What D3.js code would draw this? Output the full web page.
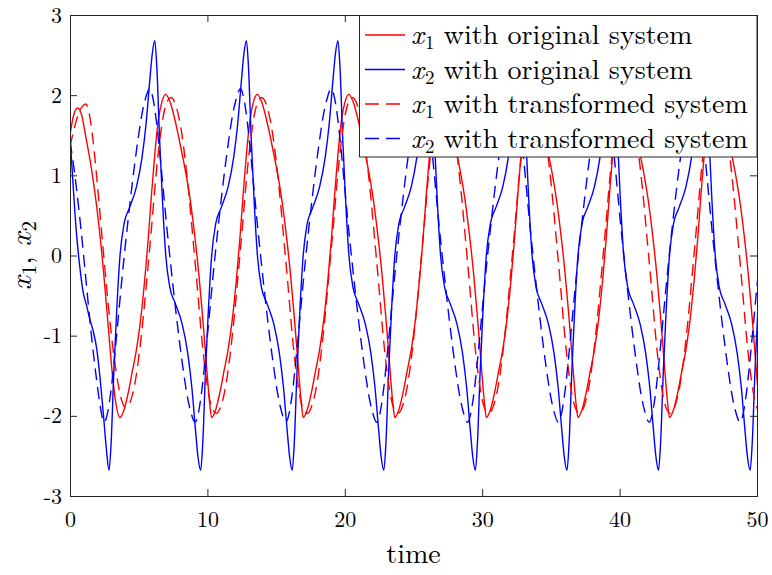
<!DOCTYPE html>
<html><head><meta charset="utf-8">
<script src="https://cdn.jsdelivr.net/npm/d3@7/dist/d3.min.js"></script>
<style>
body{margin:0;background:#fff}
text{font-family:"Latin Modern Roman","CMU Serif","Liberation Serif",serif;fill:#000}
</style></head>
<body><svg id="chart" width="772" height="575"></svg>
<script>
const xTicks=[0,10,20,30,40,50];
const yTicks=[-3,-2,-1,0,1,2,3];
const seriesNames=[
 {v:"1",rest:" with original system"},
 {v:"2",rest:" with original system"},
 {v:"1",rest:" with transformed system"},
 {v:"2",rest:" with transformed system"}];

const x1Orig=[[0,1.50],[0.25,1.74],[0.56,1.84],[0.85,1.75],[1.15,1.48],[1.5,1.15],[1.8,0.80],[2.1,0.38],[2.45,-0.22],[2.8,-0.92],[3.05,-1.42],[3.3,-1.80],
[3.64,-2.02],[3.94,-1.92],[4.24,-1.71],[4.54,-1.44],[4.84,-1.17],[5.14,-0.80],[5.44,-0.30],[5.69,0.20],[5.94,0.78],[6.19,1.30],[6.44,1.70],[6.69,1.92],[6.97,2.01],[7.27,1.92],[7.57,1.74],[7.87,1.51],[8.17,1.26],[8.47,0.99],[8.77,0.67],[9.07,0.26],[9.37,-0.22],[9.62,-0.70],[9.82,-1.12],[10.02,-1.56],[10.17,-1.85],
[10.31,-2.02],[10.61,-1.92],[10.91,-1.71],[11.21,-1.44],[11.51,-1.17],[11.81,-0.80],[12.11,-0.30],[12.36,0.20],[12.61,0.78],[12.86,1.30],[13.11,1.70],[13.36,1.92],[13.64,2.01],[13.94,1.92],[14.24,1.74],[14.54,1.51],[14.84,1.26],[15.14,0.99],[15.44,0.67],[15.74,0.26],[16.04,-0.22],[16.29,-0.70],[16.49,-1.12],[16.69,-1.56],[16.84,-1.85],
[16.97,-2.02],[17.27,-1.92],[17.57,-1.71],[17.87,-1.44],[18.17,-1.17],[18.47,-0.80],[18.77,-0.30],[19.02,0.20],[19.27,0.78],[19.52,1.30],[19.77,1.70],[20.02,1.92],[20.30,2.01],[20.60,1.92],[20.90,1.74],[21.20,1.51],[21.50,1.26],[21.80,0.99],[22.10,0.67],[22.40,0.26],[22.70,-0.22],[22.95,-0.70],[23.15,-1.12],[23.35,-1.56],[23.50,-1.85],
[23.64,-2.02],[23.94,-1.92],[24.24,-1.71],[24.54,-1.44],[24.84,-1.17],[25.14,-0.80],[25.44,-0.30],[25.69,0.20],[25.94,0.78],[26.19,1.30],[26.44,1.70],[26.69,1.92],[26.97,2.01],[27.27,1.92],[27.57,1.74],[27.87,1.51],[28.17,1.26],[28.47,0.99],[28.77,0.67],[29.07,0.26],[29.37,-0.22],[29.62,-0.70],[29.82,-1.12],[30.02,-1.56],[30.17,-1.85],
[30.30,-2.02],[30.60,-1.92],[30.90,-1.71],[31.20,-1.44],[31.50,-1.17],[31.80,-0.80],[32.10,-0.30],[32.35,0.20],[32.60,0.78],[32.85,1.30],[33.10,1.70],[33.35,1.92],[33.63,2.01],[33.93,1.92],[34.23,1.74],[34.53,1.51],[34.83,1.26],[35.13,0.99],[35.43,0.67],[35.73,0.26],[36.03,-0.22],[36.28,-0.70],[36.48,-1.12],[36.68,-1.56],[36.83,-1.85],
[36.97,-2.02],[37.27,-1.92],[37.57,-1.71],[37.87,-1.44],[38.17,-1.17],[38.47,-0.80],[38.77,-0.30],[39.02,0.20],[39.27,0.78],[39.52,1.30],[39.77,1.70],[40.02,1.92],[40.30,2.01],[40.60,1.92],[40.90,1.74],[41.20,1.51],[41.50,1.26],[41.80,0.99],[42.10,0.67],[42.40,0.26],[42.70,-0.22],[42.95,-0.70],[43.15,-1.12],[43.35,-1.56],[43.50,-1.85],
[43.63,-2.02],[43.93,-1.92],[44.23,-1.71],[44.53,-1.44],[44.83,-1.17],[45.13,-0.80],[45.43,-0.30],[45.68,0.20],[45.93,0.78],[46.18,1.30],[46.43,1.70],[46.68,1.92],[46.96,2.01],[47.26,1.92],[47.56,1.74],[47.86,1.51],[48.16,1.26],[48.46,0.99],[48.76,0.67],[49.06,0.26],[49.36,-0.22],[49.61,-0.70],[49.81,-1.12],[50.01,-1.56],[50.16,-1.85]];

const x2Orig=[[0,1.49],[0.2,0.95],[0.45,0.32],[0.7,-0.12],[0.95,-0.45],[1.2,-0.62],[1.45,-0.80],[1.7,-0.95],[1.95,-1.17],[2.2,-1.55],[2.45,-2.02],[2.65,-2.42],
[2.84,-2.68],[2.99,-2.35],[3.19,-1.45],[3.39,-0.72],[3.64,0],[3.94,0.40],[4.34,0.60],[4.84,0.86],[5.24,1.22],[5.54,1.65],[5.79,2.15],[5.99,2.52],[6.17,2.68],[6.32,2.35],[6.52,1.45],[6.72,0.72],[6.97,0],[7.27,-0.40],[7.67,-0.60],[8.17,-0.86],[8.57,-1.22],[8.87,-1.65],[9.12,-2.15],[9.32,-2.52],
[9.51,-2.68],[9.66,-2.35],[9.86,-1.45],[10.06,-0.72],[10.31,0],[10.61,0.40],[11.01,0.60],[11.51,0.86],[11.91,1.22],[12.21,1.65],[12.46,2.15],[12.66,2.52],[12.84,2.68],[12.99,2.35],[13.19,1.45],[13.39,0.72],[13.64,0],[13.94,-0.40],[14.34,-0.60],[14.84,-0.86],[15.24,-1.22],[15.54,-1.65],[15.79,-2.15],[15.99,-2.52],
[16.17,-2.68],[16.32,-2.35],[16.52,-1.45],[16.72,-0.72],[16.97,0],[17.27,0.40],[17.67,0.60],[18.17,0.86],[18.57,1.22],[18.87,1.65],[19.12,2.15],[19.32,2.52],[19.50,2.68],[19.65,2.35],[19.85,1.45],[20.05,0.72],[20.30,0],[20.60,-0.40],[21.00,-0.60],[21.50,-0.86],[21.90,-1.22],[22.20,-1.65],[22.45,-2.15],[22.65,-2.52],
[22.84,-2.68],[22.99,-2.35],[23.19,-1.45],[23.39,-0.72],[23.64,0],[23.94,0.40],[24.34,0.60],[24.84,0.86],[25.24,1.22],[25.54,1.65],[25.79,2.15],[25.99,2.52],[26.17,2.68],[26.32,2.35],[26.52,1.45],[26.72,0.72],[26.97,0],[27.27,-0.40],[27.67,-0.60],[28.17,-0.86],[28.57,-1.22],[28.87,-1.65],[29.12,-2.15],[29.32,-2.52],
[29.50,-2.68],[29.65,-2.35],[29.85,-1.45],[30.05,-0.72],[30.30,0],[30.60,0.40],[31.00,0.60],[31.50,0.86],[31.90,1.22],[32.20,1.65],[32.45,2.15],[32.65,2.52],[32.83,2.68],[32.98,2.35],[33.18,1.45],[33.38,0.72],[33.63,0],[33.93,-0.40],[34.33,-0.60],[34.83,-0.86],[35.23,-1.22],[35.53,-1.65],[35.78,-2.15],[35.98,-2.52],
[36.17,-2.68],[36.32,-2.35],[36.52,-1.45],[36.72,-0.72],[36.97,0],[37.27,0.40],[37.67,0.60],[38.17,0.86],[38.57,1.22],[38.87,1.65],[39.12,2.15],[39.32,2.52],[39.50,2.68],[39.65,2.35],[39.85,1.45],[40.05,0.72],[40.30,0],[40.60,-0.40],[41.00,-0.60],[41.50,-0.86],[41.90,-1.22],[42.20,-1.65],[42.45,-2.15],[42.65,-2.52],
[42.83,-2.68],[42.98,-2.35],[43.18,-1.45],[43.38,-0.72],[43.63,0],[43.93,0.40],[44.33,0.60],[44.83,0.86],[45.23,1.22],[45.53,1.65],[45.78,2.15],[45.98,2.52],[46.16,2.68],[46.31,2.35],[46.51,1.45],[46.71,0.72],[46.96,0],[47.26,-0.40],[47.66,-0.60],[48.16,-0.86],[48.56,-1.22],[48.86,-1.65],[49.11,-2.15],[49.31,-2.52],
[49.50,-2.68],[49.65,-2.35],[49.85,-1.45],[50.05,-0.72]];

const x1Trans=[[0,1.36],[0.3,1.58],[0.6,1.76],[0.9,1.86],[1.15,1.89],[1.45,1.72],[1.75,1.32],[2.05,0.78],[2.4,0.10],[2.75,-0.55],[3.1,-1.12],[3.45,-1.55],[3.75,-1.80],
[4.05,-1.90],[4.35,-1.84],[4.70,-1.62],[5.05,-1.21],[5.35,-0.74],[5.65,-0.19],[5.95,0.38],[6.25,0.98],[6.55,1.46],[6.85,1.79],[7.10,1.93],[7.36,1.97],[7.66,1.89],[8.01,1.65],[8.36,1.23],[8.66,0.75],[8.96,0.19],[9.26,-0.38],[9.56,-0.98],[9.86,-1.46],[10.16,-1.79],[10.41,-1.93],
[10.66,-1.97],[10.96,-1.89],[11.31,-1.65],[11.66,-1.23],[11.96,-0.75],[12.26,-0.19],[12.56,0.38],[12.86,0.98],[13.16,1.46],[13.46,1.79],[13.71,1.93],[13.97,1.97],[14.27,1.89],[14.62,1.65],[14.97,1.23],[15.27,0.75],[15.57,0.19],[15.87,-0.38],[16.17,-0.98],[16.47,-1.46],[16.77,-1.79],[17.02,-1.93],
[17.27,-1.97],[17.57,-1.89],[17.92,-1.65],[18.27,-1.23],[18.57,-0.75],[18.87,-0.19],[19.17,0.38],[19.47,0.98],[19.77,1.46],[20.07,1.79],[20.32,1.93],[20.58,1.97],[20.88,1.89],[21.23,1.65],[21.58,1.23],[21.88,0.75],[22.18,0.19],[22.48,-0.38],[22.78,-0.98],[23.08,-1.46],[23.38,-1.79],[23.63,-1.93],
[23.88,-1.97],[24.18,-1.89],[24.53,-1.65],[24.88,-1.23],[25.18,-0.75],[25.48,-0.19],[25.78,0.38],[26.08,0.98],[26.38,1.46],[26.68,1.79],[26.93,1.93],[27.19,1.97],[27.49,1.89],[27.84,1.65],[28.19,1.23],[28.49,0.75],[28.79,0.19],[29.09,-0.38],[29.39,-0.98],[29.69,-1.46],[29.99,-1.79],[30.24,-1.93],
[30.49,-1.97],[30.79,-1.89],[31.14,-1.65],[31.49,-1.23],[31.79,-0.75],[32.09,-0.19],[32.39,0.38],[32.69,0.98],[32.99,1.46],[33.29,1.79],[33.54,1.93],[33.80,1.97],[34.10,1.89],[34.45,1.65],[34.80,1.23],[35.10,0.75],[35.40,0.19],[35.70,-0.38],[36.00,-0.98],[36.30,-1.46],[36.60,-1.79],[36.85,-1.93],
[37.10,-1.97],[37.40,-1.89],[37.75,-1.65],[38.10,-1.23],[38.40,-0.75],[38.70,-0.19],[39.00,0.38],[39.30,0.98],[39.60,1.46],[39.90,1.79],[40.15,1.93],[40.41,1.97],[40.71,1.89],[41.06,1.65],[41.41,1.23],[41.71,0.75],[42.01,0.19],[42.31,-0.38],[42.61,-0.98],[42.91,-1.46],[43.21,-1.79],[43.46,-1.93],
[43.71,-1.97],[44.01,-1.89],[44.36,-1.65],[44.71,-1.23],[45.01,-0.75],[45.31,-0.19],[45.61,0.38],[45.91,0.98],[46.21,1.46],[46.51,1.79],[46.76,1.93],[47.02,1.97],[47.32,1.89],[47.67,1.65],[48.02,1.23],[48.32,0.75],[48.62,0.19],[48.92,-0.38],[49.22,-0.98],[49.52,-1.46],[49.82,-1.79],[50.07,-1.93]];

const x2Trans=[[0,1.42],[0.2,1.20],[0.44,0.88],[0.8,0.33],[1.16,-0.30],[1.5,-0.90],[1.89,-1.49],[2.13,-1.80],[2.48,-2.08],[2.75,-1.95],[3.00,-1.66],[3.25,-1.25],[3.50,-0.80],[3.73,-0.38],
[3.95,0],[4.20,0.40],[4.45,0.78],[4.70,1.13],[4.95,1.45],[5.20,1.73],[5.45,1.93],[5.80,2.08],[6.05,1.95],[6.30,1.66],[6.55,1.25],[6.80,0.80],[7.03,0.38],[7.26,0],[7.51,-0.40],[7.76,-0.78],[8.01,-1.13],[8.26,-1.45],[8.51,-1.73],[8.76,-1.93],[9.11,-2.08],[9.36,-1.95],[9.61,-1.66],[9.86,-1.25],[10.11,-0.80],[10.34,-0.38],
[10.56,0],[10.81,0.40],[11.06,0.78],[11.31,1.13],[11.56,1.45],[11.81,1.73],[12.06,1.93],[12.41,2.08],[12.66,1.95],[12.91,1.66],[13.16,1.25],[13.41,0.80],[13.64,0.38],[13.87,0],[14.12,-0.40],[14.37,-0.78],[14.62,-1.13],[14.87,-1.45],[15.12,-1.73],[15.37,-1.93],[15.72,-2.08],[15.97,-1.95],[16.22,-1.66],[16.47,-1.25],[16.72,-0.80],[16.95,-0.38],
[17.17,0],[17.42,0.40],[17.67,0.78],[17.92,1.13],[18.17,1.45],[18.42,1.73],[18.67,1.93],[19.02,2.08],[19.27,1.95],[19.52,1.66],[19.77,1.25],[20.02,0.80],[20.25,0.38],[20.48,0],[20.73,-0.40],[20.98,-0.78],[21.23,-1.13],[21.48,-1.45],[21.73,-1.73],[21.98,-1.93],[22.33,-2.08],[22.58,-1.95],[22.83,-1.66],[23.08,-1.25],[23.33,-0.80],[23.56,-0.38],
[23.78,0],[24.03,0.40],[24.28,0.78],[24.53,1.13],[24.78,1.45],[25.03,1.73],[25.28,1.93],[25.63,2.08],[25.88,1.95],[26.13,1.66],[26.38,1.25],[26.63,0.80],[26.86,0.38],[27.09,0],[27.34,-0.40],[27.59,-0.78],[27.84,-1.13],[28.09,-1.45],[28.34,-1.73],[28.59,-1.93],[28.94,-2.08],[29.19,-1.95],[29.44,-1.66],[29.69,-1.25],[29.94,-0.80],[30.17,-0.38],
[30.39,0],[30.64,0.40],[30.89,0.78],[31.14,1.13],[31.39,1.45],[31.64,1.73],[31.89,1.93],[32.24,2.08],[32.49,1.95],[32.74,1.66],[32.99,1.25],[33.24,0.80],[33.47,0.38],[33.70,0],[33.95,-0.40],[34.20,-0.78],[34.45,-1.13],[34.70,-1.45],[34.95,-1.73],[35.20,-1.93],[35.55,-2.08],[35.80,-1.95],[36.05,-1.66],[36.30,-1.25],[36.55,-0.80],[36.78,-0.38],
[37.00,0],[37.25,0.40],[37.50,0.78],[37.75,1.13],[38.00,1.45],[38.25,1.73],[38.50,1.93],[38.85,2.08],[39.10,1.95],[39.35,1.66],[39.60,1.25],[39.85,0.80],[40.08,0.38],[40.31,0],[40.56,-0.40],[40.81,-0.78],[41.06,-1.13],[41.31,-1.45],[41.56,-1.73],[41.81,-1.93],[42.16,-2.08],[42.41,-1.95],[42.66,-1.66],[42.91,-1.25],[43.16,-0.80],[43.39,-0.38],
[43.61,0],[43.86,0.40],[44.11,0.78],[44.36,1.13],[44.61,1.45],[44.86,1.73],[45.11,1.93],[45.46,2.08],[45.71,1.95],[45.96,1.66],[46.21,1.25],[46.46,0.80],[46.69,0.38],[46.92,0],[47.17,-0.40],[47.42,-0.78],[47.67,-1.13],[47.92,-1.45],[48.17,-1.73],[48.42,-1.93],[48.77,-2.08],[49.02,-1.95],[49.27,-1.66],[49.52,-1.25],[49.77,-0.80],[50.00,-0.38],[50.22,0]];

const svg=d3.select("#chart");
const L=70,R=757,T=15,B=496;
const x=d3.scaleLinear().domain([0,50]).range([L,R]);
const y=d3.scaleLinear().domain([-3,3]).range([B,T]);
const axisColor="#262626";
const fontFam='"Latin Modern Roman","CMU Serif","Liberation Serif",serif';

svg.append("defs").append("clipPath").attr("id","clip")
 .append("rect").attr("x",L).attr("y",T).attr("width",R-L).attr("height",B-T);

const line=d3.line().x(d=>x(d[0])).y(d=>y(d[1])).curve(d3.curveMonotoneX);
const series=[
 {data:x1Orig,color:"#ff0000",dash:null},
 {data:x2Orig,color:"#0000ff",dash:null},
 {data:x1Trans,color:"#ff0000",dash:"12,7"},
 {data:x2Trans,color:"#0000ff",dash:"12,7"}];
const g=svg.append("g").attr("clip-path","url(#clip)");
series.forEach(s=>{
  g.append("path").datum(s.data).attr("d",line).attr("fill","none")
   .attr("stroke",s.color).attr("stroke-width",1.4)
   .attr("stroke-dasharray",s.dash);
});

const tk=7;
const fmt=d=>String(d);
const ax=svg.append("g").attr("transform",`translate(0,${B})`)
 .call(d3.axisBottom(x).tickValues(xTicks).tickSize(-tk).tickPadding(15).tickFormat(fmt));
const axT=svg.append("g").attr("transform",`translate(0,${T})`)
 .call(d3.axisTop(x).tickValues(xTicks).tickSize(-tk).tickFormat(""));
const ay=svg.append("g").attr("transform",`translate(${L},0)`)
 .call(d3.axisLeft(y).tickValues(yTicks).tickSize(-tk).tickFormat(fmt));
const ayR=svg.append("g").attr("transform",`translate(${R},0)`)
 .call(d3.axisRight(y).tickValues(yTicks).tickSize(-tk).tickFormat(""));
[ax,axT,ay,ayR].forEach(a=>{
  a.select(".domain").attr("stroke",axisColor).attr("stroke-width",1);
  a.selectAll(".tick line").attr("stroke",axisColor).attr("stroke-width",1);
  a.selectAll(".tick text").attr("font-size",22).attr("fill","#000").style("font-family",fontFam);
});
ay.selectAll(".tick text").attr("x",-8);

svg.append("text").attr("x",(L+R)/2).attr("y",563).attr("text-anchor","middle")
 .attr("font-size",28).text("time");
const yl=svg.append("text").attr("transform",`translate(31,${(T+B)/2}) rotate(-90)`)
 .attr("text-anchor","middle").attr("font-size",30);
yl.append("tspan").attr("font-style","italic").text("x");
yl.append("tspan").attr("font-size",21).attr("dx",1).attr("dy",5).text("1");
yl.append("tspan").attr("dy",-5).text(", ");
yl.append("tspan").attr("font-style","italic").text("x");
yl.append("tspan").attr("font-size",21).attr("dx",1).attr("dy",5).text("2");

const lg=svg.append("g");
lg.append("rect").attr("x",359.5).attr("y",T+0.5).attr("width",R-359.5).attr("height",141.5)
 .attr("fill","#fff").attr("stroke",axisColor).attr("stroke-width",1);
const rowY=[35,69.5,104,138.5];
series.forEach((s,i)=>{
  lg.append("line").attr("x1",365).attr("x2",405).attr("y1",rowY[i]).attr("y2",rowY[i])
   .attr("stroke",s.color).attr("stroke-width",1.4).attr("stroke-dasharray",s.dash?"14,7":null);
  const t=lg.append("text").attr("x",411).attr("y",rowY[i]+9).attr("font-size",28);
  t.append("tspan").attr("font-style","italic").text("x");
  t.append("tspan").attr("font-size",19).attr("dx",1).attr("dy",5).text(seriesNames[i].v);
  t.append("tspan").attr("dy",-5).text(seriesNames[i].rest);
});
</script></body></html>
